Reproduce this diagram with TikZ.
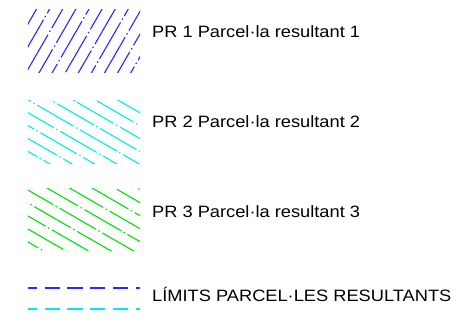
\documentclass[tikz,border=0pt]{standalone}
\usepackage{fontspec}
\setmainfont{Liberation Sans}[FakeStretch=1.11]
\usetikzlibrary{positioning,calc}
\definecolor{hatchblue}{RGB}{40,40,255}
\definecolor{hatchcyan}{RGB}{0,235,235}
\definecolor{hatchgreen}{RGB}{0,225,0}
\tikzset{
  swatch/.style={
    rectangle, inner sep=0pt,
    minimum width=112bp, minimum height=62bp
  },
  hatchline/.style={
    draw=#1, line width=1.1bp,
    dash pattern=on 42bp off 3bp on 1.5bp off 3bp
  },
  hatchline/.default=hatchblue,
  limitline/.style={
    draw=#1, line width=1.2bp,
    dash pattern=on 15.3bp off 7.4bp, dash phase=6bp
  },
  legendtext/.style={
    font=\fontsize{16.5}{19}\selectfont,
    anchor=base west, inner sep=0pt
  },
}

\begin{document}
\begin{tikzpicture}[x=1bp, y=-1bp]
\useasboundingbox (0,0) rectangle (466,329);

% Swatches
\node[swatch] (pr1) at (84,41) {};
\node[swatch] (pr2) at (84,132) {};
\node[swatch] (pr3) at (84,219.5) {};

% Limit lines
\coordinate (lim1a) at (28,288);
\coordinate (lim1b) at (140,288);
\coordinate (lim2a) at (28,309);
\coordinate (lim2b) at (140,309);

% Labels
\node[legendtext] (t1) at (152,37) {PR 1 Parcel·la resultant 1};
\node[legendtext] (t2) at (152,127) {PR 2 Parcel·la resultant 2};
\node[legendtext] (t3) at (152,217) {PR 3 Parcel·la resultant 3};
\node[legendtext] (t4) at (152,301) {LÍMITS PARCEL·LES RESULTANTS};

% Hatch PR 1
\begin{scope}
  \clip (pr1.south west) rectangle (pr1.north east);
  \foreach \k in {0,...,10}{
    \pgfmathsetmacro\xk{36+13.1*\k}
    \pgfmathsetmacro\ph{mod(17*\k+5,49.5)}
    \draw[hatchline=hatchblue, dash phase=\ph bp] (\xk-40.4,80) -- (\xk+5.8,0);
  }
\end{scope}

% Hatch PR 2
\begin{scope}
  \clip (pr2.south west) rectangle (pr2.north east);
  \foreach \k in {-9,...,4}{
    \pgfmathsetmacro\yk{112.7+12.9*\k}
    \pgfmathsetmacro\ph{mod(23*\k+300,49.5)}
    \draw[hatchline=hatchcyan, dash phase=\ph bp] (20,\yk-4.6) -- (150,\yk+70.4);
  }
\end{scope}

% Hatch PR 3
\begin{scope}
  \clip (pr3.south west) rectangle (pr3.north east);
  \foreach \k in {-9,...,5}{
    \pgfmathsetmacro\yk{190+13*\k}
    \pgfmathsetmacro\ph{mod(29*\k+400,49.5)}
    \draw[hatchline=hatchgreen, dash phase=\ph bp] (20,\yk-4.6) -- (150,\yk+70.4);
  }
\end{scope}

\draw[limitline=hatchblue] (lim1a) -- (lim1b);
\draw[limitline=hatchcyan] (lim2a) -- (lim2b);

\end{tikzpicture}
\end{document}
